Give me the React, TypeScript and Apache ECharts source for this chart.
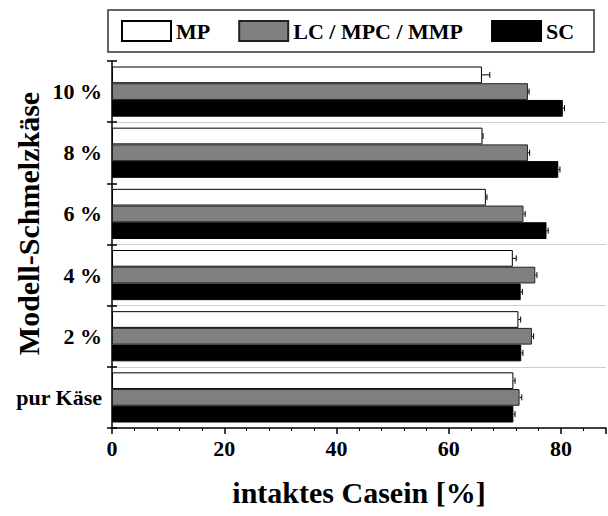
import React, { useEffect, useRef } from "react";
import * as echarts from "echarts";

const categories = ["pur Käse", "2 %", "4 %", "6 %", "8 %", "10 %"];
const seriesNames = ["MP", "LC / MPC / MMP", "SC"];
const mpValues = [71.5, 72.4, 71.4, 66.6, 66.0, 65.9];
const lcValues = [72.6, 74.8, 75.4, 73.3, 74.1, 74.1];
const scValues = [71.5, 72.9, 72.8, 77.4, 79.5, 80.3];
const mpErrors = [0.3, 0.4, 0.6, 0.2, 0.1, 1.4];
const lcErrors = [0.4, 0.3, 0.3, 0.3, 0.3, 0.2];
const scErrors = [0.3, 0.3, 0.3, 0.3, 0.3, 0.3];

const FONT = "'Liberation Serif', 'Times New Roman', serif";
const GAP = 0.18;
const NONE = "rgba(0,0,0,0)";
const GRIDC = "#cfcfcf";
// colours of the category boundary lines, from the bottom boundary to the top one
const gridLineColors = [NONE, GRIDC, GRIDC, GRIDC, NONE, GRIDC, NONE];

function errorSeries(values: number[], errors: number[], slot: number) {
  return {
    type: "custom",
    z: 10,
    silent: true,
    encode: { x: 0, y: 1 },
    data: values.map((v, i) => [v, i, errors[i]]),
    renderItem: (params: any, api: any) => {
      const v = api.value(0);
      const c = api.value(1);
      const e = api.value(2);
      const p0 = api.coord([v, c]);
      const p1 = api.coord([v + e, c]);
      const band = api.size([0, 1])[1];
      const bw = (band * (1 - GAP)) / 3;
      const y = p0[1] + (slot - 1) * bw;
      const h = 3;
      return {
        type: "group",
        children: [
          {
            type: "line",
            shape: { x1: p0[0], y1: y, x2: p1[0], y2: y },
            style: { stroke: "#000", lineWidth: 1 },
          },
          {
            type: "line",
            shape: { x1: p1[0], y1: y - h, x2: p1[0], y2: y + h },
            style: { stroke: "#000", lineWidth: 1 },
          },
        ],
      };
    },
  };
}

export default function App() {
  const ref = useRef<HTMLDivElement>(null);
  useEffect(() => {
    if (!ref.current) return;
    const chart = echarts.init(ref.current, undefined, { renderer: "svg" });
    chart.setOption({
      animation: false,
      backgroundColor: "#fff",
      textStyle: { fontFamily: FONT },
      grid: { left: 112, right: 2, top: 61, bottom: 88, outerBoundsMode: "none", containLabel: false },
      graphic: [
        {
          type: "rect",
          shape: { x: 108, y: 10, width: 486, height: 42 },
          style: { fill: "none", stroke: "#333", lineWidth: 1.5 },
          z: 100,
        },
      ],
      legend: {
        data: seriesNames,
        left: 121,
        top: 20,
        itemWidth: 49,
        itemHeight: 20,
        itemGap: 28,
        padding: 0,
        icon: "rect",
        textStyle: {
          fontFamily: FONT,
          fontWeight: "bold",
          fontSize: 22,
          color: "#000",
        },
      },
      xAxis: {
        type: "value",
        min: 0,
        max: 88,
        interval: 20,
        name: "intaktes Casein [%]",
        nameLocation: "middle",
        nameGap: 49,
        nameMoveOverlap: false,
        nameTextStyle: {
          fontFamily: FONT,
          fontWeight: "bold",
          fontSize: 30,
          color: "#000",
        },
        axisLine: { show: true, lineStyle: { color: "#000", width: 1.5 } },
        axisTick: { show: true, length: 6, lineStyle: { color: "#000", width: 1.5 } },
        minorTick: { show: true, splitNumber: 5, length: 3, lineStyle: { color: "#000" } },
        splitLine: { show: false },
        axisLabel: {
          fontFamily: FONT,
          fontWeight: "bold",
          fontSize: 22,
          color: "#000",
          margin: 9,
          formatter: (v: number) => (v % 20 === 0 ? String(v) : ""),
        },
      },
      yAxis: [
        {
          type: "category",
          data: categories,
          name: "Modell-Schmelzkäse",
          nameLocation: "middle",
          nameGap: 69,
          nameMoveOverlap: false,
          nameTextStyle: {
            fontFamily: FONT,
            fontWeight: "bold",
            fontSize: 30,
            color: "#000",
            padding: [0, 0, 0, 42],
          },
          axisLine: { show: true, lineStyle: { color: "#000", width: 1.5 } },
          axisTick: { show: true, length: 5, lineStyle: { color: "#000", width: 1.5 } },
          splitLine: {
            show: true,
            lineStyle: { color: gridLineColors, width: 1 },
          },
          axisLabel: {
            fontFamily: FONT,
            fontWeight: "bold",
            fontSize: 22,
            color: "#000",
            margin: 10,
          },
        },
        {
          type: "category",
          data: categories,
          position: "left",
          axisLine: { show: false },
          axisTick: { show: true, inside: true, length: 5, lineStyle: { color: "#000", width: 1.5 } },
          axisLabel: { show: false },
          splitLine: { show: false },
        },
      ],
      series: [
        {
          name: "MP",
          type: "bar",
          data: mpValues,
          barGap: "0%",
          barCategoryGap: "18%",
          itemStyle: { color: "#ffffff", borderColor: "#000", borderWidth: 1 },
        },
        {
          name: "LC / MPC / MMP",
          type: "bar",
          data: lcValues,
          barGap: "0%",
          barCategoryGap: "18%",
          itemStyle: { color: "#808080", borderColor: "#222", borderWidth: 1 },
        },
        {
          name: "SC",
          type: "bar",
          data: scValues,
          barGap: "0%",
          barCategoryGap: "18%",
          itemStyle: { color: "#000000", borderColor: "#000", borderWidth: 1 },
        },
        errorSeries(mpValues, mpErrors, 0),
        errorSeries(lcValues, lcErrors, 1),
        errorSeries(scValues, scErrors, 2),
      ],
    });
    return () => chart.dispose();
  }, []);
  return <div ref={ref} style={{ width: 608, height: 516, position: "absolute", left: 0, top: 0 }} />;
}
